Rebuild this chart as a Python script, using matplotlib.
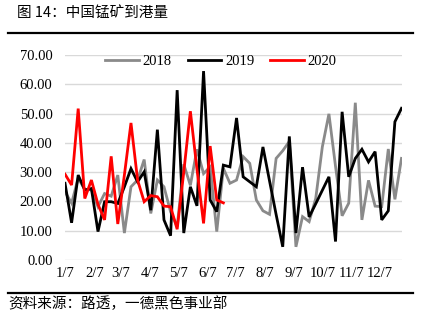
import matplotlib
matplotlib.use("Agg")
import matplotlib.pyplot as plt
from matplotlib.lines import Line2D
from matplotlib.ticker import FormatStrFormatter
import pandas as pd

title = "图 14：中国锰矿到港量"
source = "资料来源：路透，一德黑色事业部"

start_date = "2019-01-07"
tick_labels = ["1/7", "2/7", "3/7", "4/7", "5/7", "6/7", "7/7", "8/7", "9/7", "10/7", "11/7", "12/7"]
tick_months = [1, 2, 3, 4, 5, 6, 7, 8, 9, 10, 11, 12]

s2018 = [23.3, 19.4, 28.0, 24.0, 24.0, 18.2, 22.7, 21.8, 29.0, 9.2,
         25.0, 27.3, 34.3, 15.9, 27.3, 25.0, 16.5, 11.4, 32.7, 25.5,
         37.8, 29.5, 31.8, 9.7, 31.3, 26.2, 27.3, 35.3, 33.0, 20.5,
         16.8, 15.6, 34.7, 37.3, 40.5, 4.5, 14.8, 13.1, 21.0, 38.6,
         49.9, 32.0, 15.1, 19.4, 53.7, 13.7, 27.2, 18.4, 18.2, 37.9,
         20.7, 34.7]
s2019 = [26.2, 12.7, 29.0, 23.9, 24.4, 9.7, 19.9, 19.9, 19.3, 25.0,
         31.2, 26.7, 30.1, 17.0, 44.5, 13.7, 8.3, 58.0, 9.2, 25.0,
         18.5, 64.5, 20.5, 16.5, 32.4, 31.8, 48.5, 28.4, 26.7, 25.0,
         38.6, 27.0, 15.5, 4.5, 42.2, 9.2, 31.7, 14.7, 19.2, 23.8,
         28.4, 6.3, 50.6, 28.4, 34.7, 37.8, 33.5, 37.0, 13.7, 16.8,
         47.2, 51.8]
s2020 = [29.3, 25.6, 51.7, 21.0, 27.3, 19.0, 13.7, 35.4, 12.3, 29.0,
         46.8, 27.3, 19.9, 22.0, 21.6, 18.4, 18.2, 10.5, 30.0, 50.8,
         31.0, 12.5, 38.9, 20.5, 19.5]

series_names = ["2018", "2019", "2020"]
series_colors = ["#8a8a8a", "#000000", "#ff0000"]

dates = pd.date_range(start_date, periods=len(s2019), freq="7D")
tick_pos = [pd.Timestamp(2019, m, 7) for m in tick_months]

serif = ["Liberation Serif", "DejaVu Serif"]
cjk = ["Noto Sans CJK SC", "DejaVu Sans"]

fig = plt.figure(figsize=(4.24, 3.29), dpi=100)
W, H = 424, 329
l, r, t, b = 65, 401.5, 55, 260
ax = fig.add_axes([l / W, 1 - b / H, (r - l) / W, (b - t) / H])

for data, name, col in zip([s2018, s2019, s2020], series_names, series_colors):
    ax.plot(dates[:len(data)], data, color=col, lw=2.0, label=name, solid_joinstyle="miter")

ax.set_xlim(dates[0], dates[-1])
ax.set_ylim(0, 70)
ax.set_yticks(range(0, 71, 10))
ax.yaxis.set_major_formatter(FormatStrFormatter("%.2f"))
ax.set_xticks(tick_pos)
ax.set_xticklabels(tick_labels)
ax.grid(axis="y", color="#d9d9d9", lw=1.0)
ax.set_axisbelow(True)
for s in ax.spines.values():
    s.set_visible(False)
ax.tick_params(axis="both", length=0, labelsize=10.5)
ax.tick_params(axis="y", pad=9)
ax.tick_params(axis="x", pad=5)
for lab in ax.get_xticklabels() + ax.get_yticklabels():
    lab.set_family(serif)

leg = ax.legend(loc="center", bbox_to_anchor=((221 - l) / (r - l), (b - 61.7) / (b - t)),
                ncol=3, frameon=False, handlelength=2.3, handletextpad=0.25,
                columnspacing=1.1, prop={"family": serif, "size": 10.5})

fig.text(17 / W, 1 - 14 / H, title, family=cjk, fontsize=10.5, va="center", ha="left")
fig.text(8 / W, 1 - 304 / H, source, family=cjk, fontsize=10.5, va="center", ha="left")
fig.add_artist(Line2D([8 / W, 413 / W], [1 - 33 / H, 1 - 33 / H], color="black", lw=1.6,
                      transform=fig.transFigure))
fig.add_artist(Line2D([8 / W, 413 / W], [1 - 292.5 / H, 1 - 292.5 / H], color="black", lw=1.6,
                      transform=fig.transFigure))

fig.savefig("out.png", dpi=100)
